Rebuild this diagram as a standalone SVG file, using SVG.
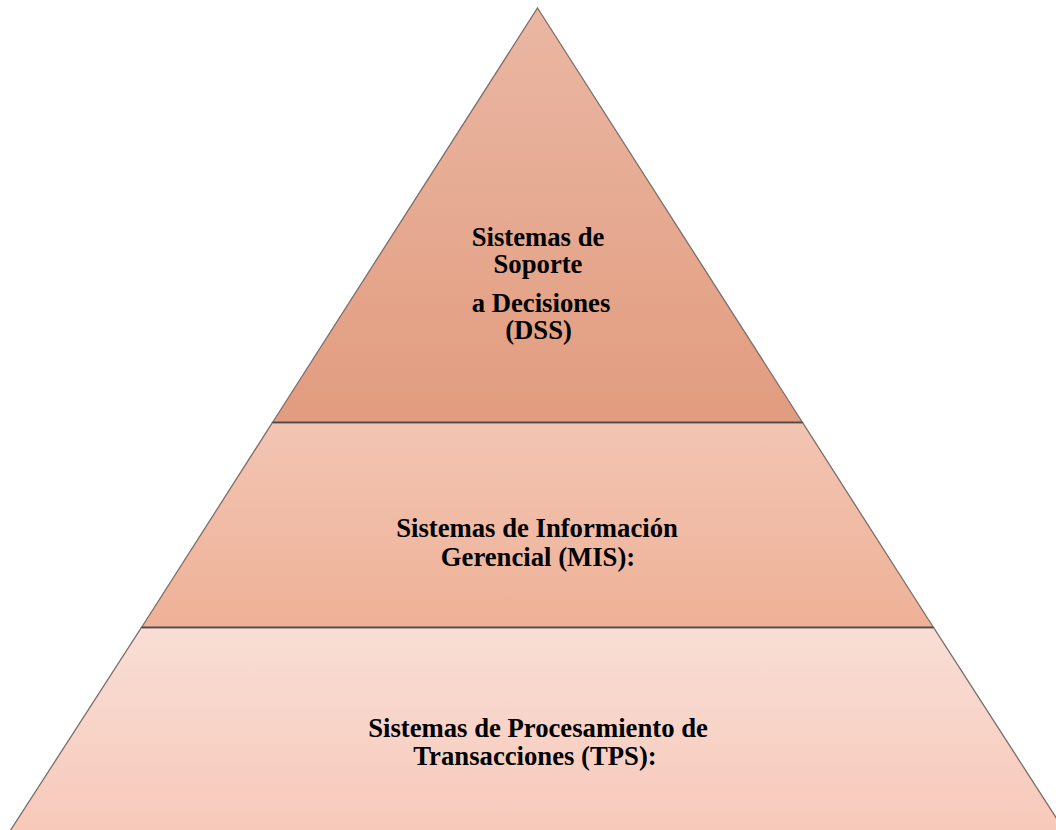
<svg xmlns="http://www.w3.org/2000/svg" width="1056" height="830" viewBox="0 0 1056 830">
  <defs>
    <linearGradient id="gTop" x1="0" y1="0" x2="0" y2="1">
      <stop offset="0" stop-color="#EAB7A3"/>
      <stop offset="1" stop-color="#E29C7F"/>
    </linearGradient>
    <linearGradient id="gMid" x1="0" y1="0" x2="0" y2="1">
      <stop offset="0" stop-color="#F2C5B3"/>
      <stop offset="1" stop-color="#EFB197"/>
    </linearGradient>
    <linearGradient id="gBot" x1="0" y1="0" x2="0" y2="1">
      <stop offset="0" stop-color="#F9DED5"/>
      <stop offset="1" stop-color="#F7C8B9"/>
    </linearGradient>
    <style>
      .tier { stroke: #7a6e6a; stroke-width: 1.3; stroke-linejoin: miter; }
      .sep { stroke: #4a4a4a; stroke-width: 1.3; fill: none; }
      .lbl { font-family: "Liberation Serif", "Times New Roman", serif; font-weight: bold; font-size: 26.7px; fill: #000; text-anchor: middle; }
    </style>
  </defs>
  <rect width="1056" height="830" fill="#ffffff"/>
  <g id="tier-dss">
    <polygon class="tier" fill="url(#gTop)" points="537.5,8 802.5,422.5 272.5,422.5"/>
    <text class="lbl" x="538" y="246">Sistemas de</text>
    <text class="lbl" x="538" y="273">Soporte</text>
    <text class="lbl" x="541" y="312">a Decisiones</text>
    <text class="lbl" x="538.5" y="339">(DSS)</text>
  </g>
  <g id="tier-mis">
    <polygon class="tier" fill="url(#gMid)" points="272.5,422.5 802.5,422.5 933.5,627.5 141.5,627.5"/>
    <text class="lbl" x="537" y="537">Sistemas de Información</text>
    <text class="lbl" x="538" y="566">Gerencial (MIS):</text>
  </g>
  <g id="tier-tps">
    <polygon class="tier" fill="url(#gBot)" points="141.5,627.5 933.5,627.5 1070.5,840 4.2,840"/>
    <text class="lbl" x="538" y="737">Sistemas de Procesamiento de</text>
    <text class="lbl" x="535" y="765">Transacciones (TPS):</text>
  </g>
  <g id="connectors">
    <line class="sep" x1="272.5" y1="422.5" x2="802.5" y2="422.5"/>
    <line class="sep" x1="141.5" y1="627.5" x2="933.5" y2="627.5"/>
  </g>
</svg>
